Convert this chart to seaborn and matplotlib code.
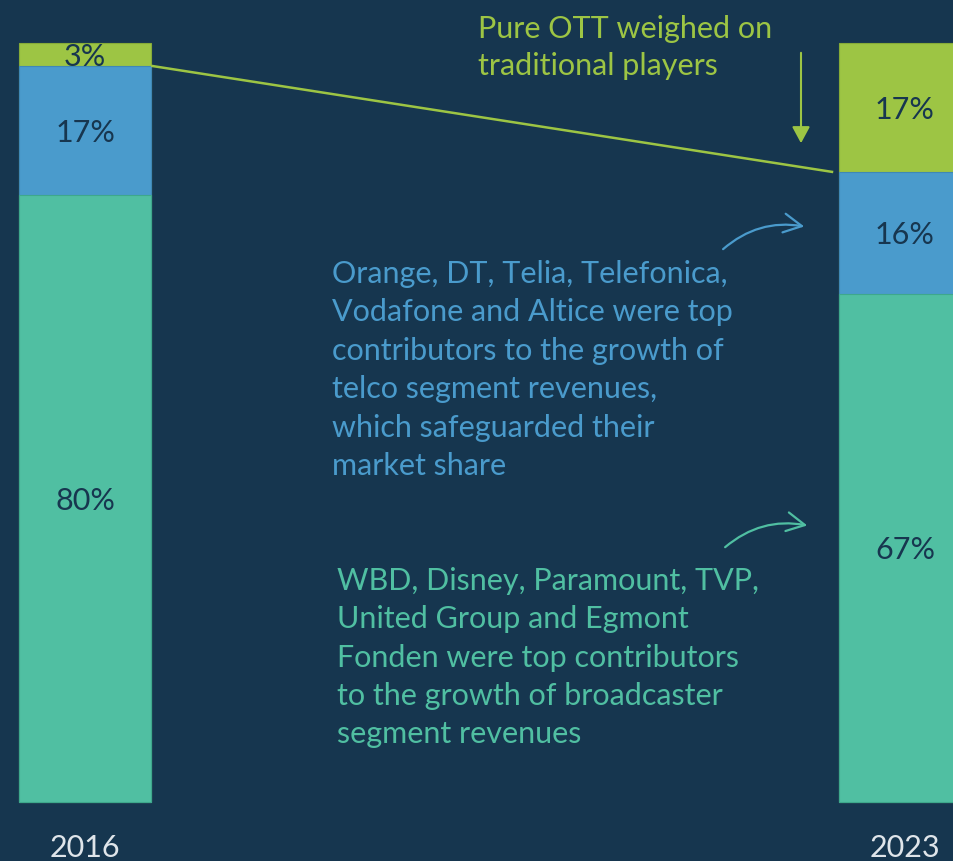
import matplotlib
matplotlib.use("Agg")
import matplotlib.pyplot as plt
import matplotlib.transforms as mtransforms
import seaborn as sns
import pandas as pd
from matplotlib.patches import FancyArrowPatch

# ---- data ----
years = ["2016", "2023"]
broadcaster = [80, 67]
telco = [17, 16]
pure_ott = [3, 17]

ott_note = ["Pure OTT weighed on", "traditional players"]
telco_note = ["Orange, DT, Telia, Telefonica,", "Vodafone and Altice were top",
              "contributors to the growth of", "telco segment revenues,",
              "which safeguarded their", "market share"]
bc_note = ["WBD, Disney, Paramount, TVP,", "United Group and Egmont",
           "Fonden were top contributors", "to the growth of broadcaster",
           "segment revenues"]

# ---- style ----
BG = "#16364f"
LIME = "#9dc544"
BLUE = "#4a9bcc"
GREEN = "#50bfa2"
LABEL = "#17364f"
YEARC = "#dfe5ea"

sns.set_theme(style="white")
plt.rcParams["font.family"] = ["Lato", "DejaVu Sans"]

W, H = 954, 861
fig = plt.figure(figsize=(W / 100, H / 100), dpi=100, facecolor=BG)
ax = fig.add_axes([0, 0, 1, 1])
ax.set_facecolor(BG)

df = pd.DataFrame({"year": years, "broadcaster": broadcaster,
                   "telco": telco, "ott": pure_ott})
df["c2"] = df["broadcaster"] + df["telco"]
df["c3"] = df["c2"] + df["ott"]

bw = 0.161
sns.barplot(data=df, x="year", y="c3", color=LIME, width=bw, saturation=1,
            edgecolor="#86ab38", linewidth=0.8, ax=ax)
sns.barplot(data=df, x="year", y="c2", color=BLUE, width=bw, saturation=1,
            edgecolor="#3f88b5", linewidth=0.8, ax=ax)
sns.barplot(data=df, x="year", y="broadcaster", color=GREEN, width=bw,
            saturation=1, edgecolor="#3ea88c", linewidth=0.8, ax=ax)

ax.set_xlim(-0.1037, 1.0598)
ax.set_ylim(-7.77, 105.67)
ax.axis("off")

FS = 22
# shift so the digits' visual centre sits on the segment centre
down = mtransforms.offset_copy(ax.transData, fig=fig, x=0, y=-11.5,
                               units="dots")
for i in range(len(years)):
    b, t, o = broadcaster[i], telco[i], pure_ott[i]
    for bottom, val in [(0, b), (b, t), (b + t, o)]:
        ax.text(i, bottom + val / 2, f"{val}%", ha="center", va="baseline",
                fontsize=FS, color=LABEL, transform=down)
    ax.text(i, -6.1, years[i], ha="center", va="center", fontsize=FS,
            color=YEARC)

# connector line between top of telco segments
ax.plot([0 + bw / 2, 1 - bw / 2 - 0.007], [df["c2"][0], df["c2"][1]],
        color=LIME, lw=1.8, solid_capstyle="butt")


def fp(x, y):
    return (x / W, 1 - y / H)


def lines(txts, x, y0, dy, color):
    for k, s in enumerate(txts):
        fig.text(*fp(x, y0 + k * dy), s, ha="left", va="baseline",
                 fontsize=FS, color=color)


lines(ott_note, 478, 38, 37.5, LIME)
lines(telco_note, 332, 283, 38.4, BLUE)
lines(bc_note, 337, 590, 38.25, GREEN)

# arrows
a1 = FancyArrowPatch(fp(801, 50), fp(801, 146), transform=fig.transFigure,
                     arrowstyle="-|>,head_length=10,head_width=5.4",
                     mutation_scale=1, color=LIME, lw=1.5)
fig.patches.append(a1)
a2 = FancyArrowPatch(fp(721, 251), fp(807, 227), transform=fig.transFigure,
                     connectionstyle="arc3,rad=-0.25",
                     arrowstyle="->,head_length=13,head_width=6.8",
                     mutation_scale=1, color=BLUE, lw=1.6)
fig.patches.append(a2)
a3 = FancyArrowPatch(fp(723, 549), fp(810, 526), transform=fig.transFigure,
                     connectionstyle="arc3,rad=-0.25",
                     arrowstyle="->,head_length=13,head_width=6.8",
                     mutation_scale=1, color=GREEN, lw=1.6)
fig.patches.append(a3)

fig.savefig("out.png", dpi=100, facecolor=BG)
